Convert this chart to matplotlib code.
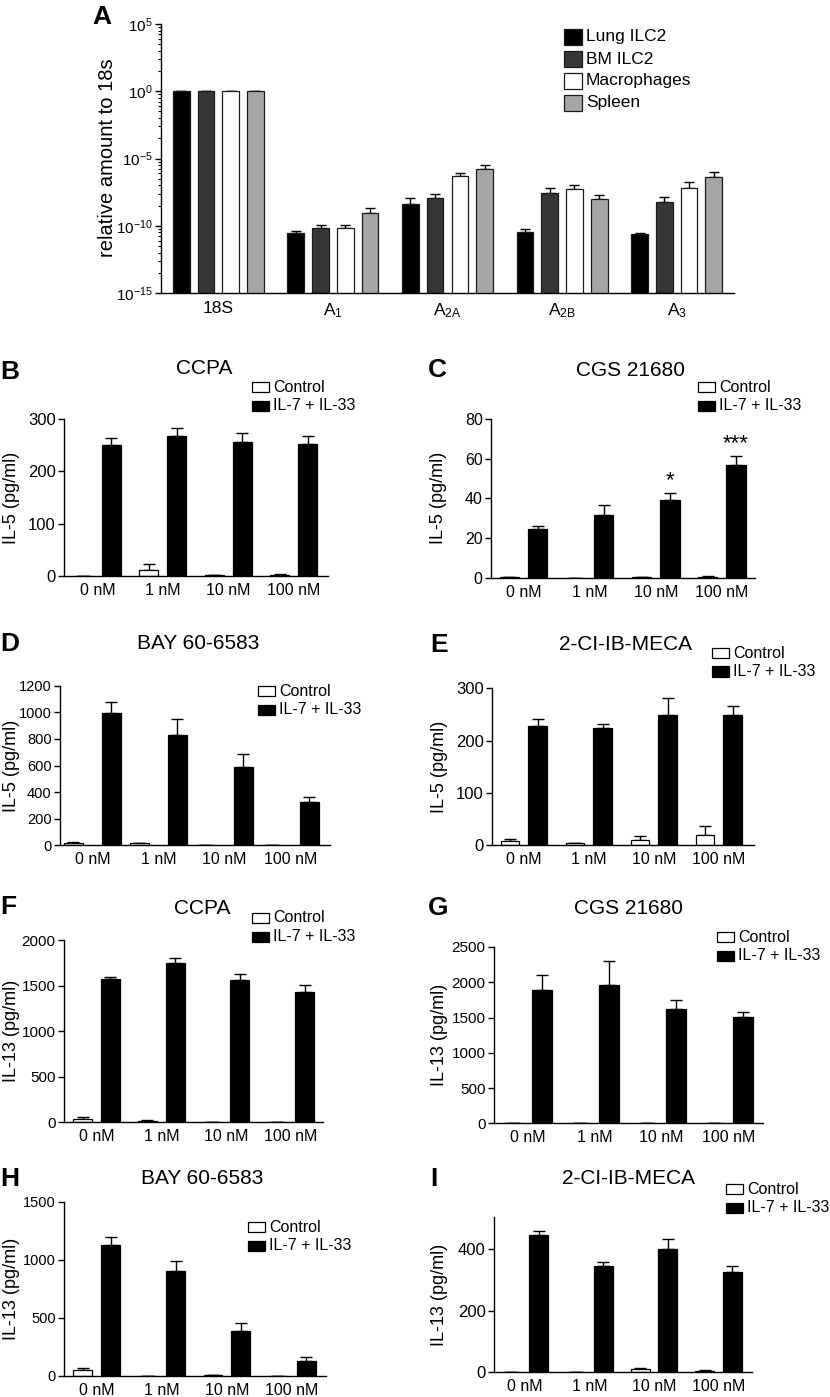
import numpy as np
import matplotlib
matplotlib.use('Agg')
import matplotlib.pyplot as plt
from matplotlib.patches import Rectangle
from matplotlib.ticker import FixedLocator, FixedFormatter

plt.rcParams['font.family'] = ['Liberation Sans', 'DejaVu Sans']
plt.rcParams['mathtext.fontset'] = 'custom'
plt.rcParams['mathtext.rm'] = 'Liberation Sans'
plt.rcParams['axes.linewidth'] = 1.0

# ---- Panel A: receptor expression relative to 18S ----
genes = [r'18S', r'A$\mathregular{_1}$', r'A$\mathregular{_{2A}}$',
         r'A$\mathregular{_{2B}}$', r'A$\mathregular{_3}$']
cell_types = ['Lung ILC2', 'BM ILC2', 'Macrophages', 'Spleen']
lung = [1.0, 2.75e-11, 4.17e-9, 3.31e-11, 2.34e-11]
lung_err = [0.02, 1.3e-11, 7.3e-9, 2.2e-11, 0.6e-11]
bm = [1.0, 6.46e-11, 1.15e-8, 2.57e-8, 5.9e-9]
bm_err = [0.02, 4.8e-11, 1.25e-8, 3.4e-8, 7.6e-9]
mac = [1.0, 7.1e-11, 4.7e-7, 5.6e-8, 6.3e-8]
mac_err = [0.02, 4.1e-11, 3.6e-7, 5.6e-8, 1.1e-7]
spleen = [1.0, 9.1e-10, 1.62e-6, 1.05e-8, 4.2e-7]
spleen_err = [0.02, 1.2e-9, 1.4e-6, 9e-9, 5.6e-7]

# ---- Panels B-I: cytokine release ----
conc_labels = ['0 nM', '1 nM', '10 nM', '100 nM']
series_names = ['Control', 'IL-7 + IL-33']

b_ctrl = [0, 12, 2, 3]
b_ctrl_err = [0, 11, 1, 1]
b_il = [249, 267.6, 255, 251.7]
b_il_err = [13.5, 15, 18, 14.6]

c_ctrl = [0.2, 0, 0.4, 0.5]
c_ctrl_err = [0.1, 0, 0.2, 0.2]
c_il = [24.5, 31.8, 39, 57]
c_il_err = [1.7, 5, 3.5, 4.5]
c_stars = ['', '', '*', '***']

d_ctrl = [20, 15, 0, 3]
d_ctrl_err = [5, 3, 0, 1]
d_il = [992, 832, 591, 326]
d_il_err = [83, 117, 93, 35]

e_ctrl = [8.3, 3.2, 9.6, 18.5]
e_ctrl_err = [3.8, 1.3, 7.6, 18.5]
e_il = [228.5, 223.4, 249.5, 249.5]
e_il_err = [12, 8.3, 31, 17]

f_ctrl = [29, 15, 0, 0]
f_ctrl_err = [22, 7, 0, 0]
f_il = [1570, 1754, 1560, 1431]
f_il_err = [22, 55, 73, 73]

g_ctrl = [5, 8, 5, 0]
g_ctrl_err = [2, 2, 2, 0]
g_il = [1890, 1961, 1621, 1503]
g_il_err = [208, 341, 128, 71]

h_ctrl = [46, 0, 2, 0]
h_ctrl_err = [17, 0, 1, 0]
h_il = [1129, 899, 382, 129]
h_il_err = [69, 90, 75, 29]

i_ctrl = [0, 0, 9.7, 5.4]
i_ctrl_err = [0, 0, 5.4, 2]
i_il = [444, 346, 400, 325]
i_il_err = [16, 13, 33.5, 20]

W, H = 830, 1397
fig = plt.figure(figsize=(W / 100, H / 100), dpi=100)


def add_ax(left, top, right, bottom):
    return fig.add_axes([left / W, 1 - bottom / H, (right - left) / W, (bottom - top) / H])


def ftext(x, y, s, **kw):
    fig.text(x / W, 1 - y / H, s, **kw)


def legend_px(x, y, labels, colors, dy, bw, bh, fs, edge='black'):
    for k, (lab, col) in enumerate(zip(labels, colors)):
        yc = y + k * dy
        fig.patches.append(Rectangle((x / W, 1 - (yc + bh / 2) / H), bw / W, bh / H,
                                     transform=fig.transFigure, facecolor=col,
                                     edgecolor=edge, linewidth=0.9))
        ftext(x + bw + 4, yc, lab, fontsize=fs, ha='left', va='center')


def style_axes(ax):
    ax.spines['top'].set_visible(False)
    ax.spines['right'].set_visible(False)
    ax.set_facecolor('none')


# ---------------- Panel A ----------------
axA = add_ax(161, 24, 734, 293)
style_axes(axA)
axA.set_yscale('log')
x = np.arange(len(genes))
bw = 0.146
step = 0.216
a_colors = ['#000000', '#363636', '#ffffff', '#a6a6a6']
for k, (vals, errs) in enumerate([(lung, lung_err), (bm, bm_err), (mac, mac_err), (spleen, spleen_err)]):
    pos = x + (k - 1.5) * step
    axA.bar(pos, vals, width=bw, color=a_colors[k], edgecolor='#1a1a1a', linewidth=0.9, zorder=2)
    axA.errorbar(pos, vals, yerr=[np.zeros(len(vals)), errs], fmt='none', ecolor='black',
                 elinewidth=1.0, capsize=3.5, capthick=1.0, zorder=1)
axA.set_ylim(1e-15, 1e5)
axA.set_xlim(-0.5, 4.5)
majors = [1e-15, 1e-10, 1e-5, 1e0, 1e5]
axA.yaxis.set_major_locator(FixedLocator(majors))
axA.yaxis.set_major_formatter(FixedFormatter([r'$\mathregular{10^{-15}}$', r'$\mathregular{10^{-10}}$',
                                              r'$\mathregular{10^{-5}}$', r'$\mathregular{10^{0}}$',
                                              r'$\mathregular{10^{5}}$']))
minors = [10 ** (e + 5 * np.log10(m)) for e in (-15, -10, -5, 0) for m in range(2, 10)]
axA.yaxis.set_minor_locator(FixedLocator(minors))
axA.yaxis.set_minor_formatter(FixedFormatter([''] * len(minors)))
axA.tick_params(axis='y', which='major', length=4, width=1.0, labelsize=11, pad=2)
axA.tick_params(axis='y', which='minor', length=2.5, width=0.8)
axA.set_xticks(x)
axA.set_xticklabels(genes, fontsize=12.5)
axA.tick_params(axis='x', length=0, pad=6)
ftext(107, 158, 'relative amount to 18s', fontsize=14.5, rotation=90, ha='center', va='center')
ftext(92, 17, 'A', fontsize=19, fontweight='bold', ha='left', va='center')
legend_px(564, 37, cell_types, a_colors, 22, 18, 16, 12.5, edge='#1a1a1a')

# ---------------- Panels B-I ----------------
panels = [
    dict(rect=(64, 418.7, 328, 576.3), ctrl=b_ctrl, ctrl_err=b_ctrl_err, il=b_il, il_err=b_il_err,
         ylim=300, yticks=[0, 100, 200, 300], ylabel='IL-5 (pg/ml)', title='CCPA', title_xy=(204, 369),
         letter='B', letter_xy=(0, 372), ylab_x=11, leg=(252, 387), off=0.214, xlim=(-0.51, 3.52), tfs=12),
    dict(rect=(491, 419, 755, 577.7), ctrl=c_ctrl, ctrl_err=c_ctrl_err, il=c_il, il_err=c_il_err,
         ylim=80, yticks=[0, 20, 40, 60, 80], ylabel='IL-5 (pg/ml)', title='CGS 21680', title_xy=(630, 370),
         letter='C', letter_xy=(428, 370), ylab_x=438, leg=(698, 387), off=0.214, xlim=(-0.49, 3.5),
         stars=c_stars, tfs=11.5),
    dict(rect=(60, 685.7, 330, 845.3), ctrl=d_ctrl, ctrl_err=d_ctrl_err, il=d_il, il_err=d_il_err,
         ylim=1200, yticks=[0, 200, 400, 600, 800, 1000, 1200], ylabel='IL-5 (pg/ml)', title='BAY 60-6583',
         title_xy=(198, 644), letter='D', letter_xy=(0, 644), ylab_x=11, leg=(258, 691), off=0.286,
         xlim=(-0.49, 3.6), tfs=10.5),
    dict(rect=(492, 688.3, 754, 845), ctrl=e_ctrl, ctrl_err=e_ctrl_err, il=e_il, il_err=e_il_err,
         ylim=300, yticks=[0, 100, 200, 300], ylabel='IL-5 (pg/ml)', title='2-CI-IB-MECA', title_xy=(625, 645),
         letter='E', letter_xy=(430, 645), ylab_x=439, leg=(712, 653), off=0.214, xlim=(-0.49, 3.54), tfs=12),
    dict(rect=(64, 940.3, 323, 1122), ctrl=f_ctrl, ctrl_err=f_ctrl_err, il=f_il, il_err=f_il_err,
         ylim=2000, yticks=[0, 500, 1000, 1500, 2000], ylabel='IL-13 (pg/ml)', title='CCPA', title_xy=(202, 908),
         letter='F', letter_xy=(0, 907), ylab_x=11, leg=(252, 918), off=0.214, xlim=(-0.505, 3.5), tfs=11),
    dict(rect=(494, 947, 763, 1123.3), ctrl=g_ctrl, ctrl_err=g_ctrl_err, il=g_il, il_err=g_il_err,
         ylim=2500, yticks=[0, 500, 1000, 1500, 2000, 2500], ylabel='IL-13 (pg/ml)', title='CGS 21680',
         title_xy=(628, 908), letter='G', letter_xy=(428, 908), ylab_x=439, leg=(717, 937), off=0.214,
         xlim=(-0.5, 3.51), tfs=11),
    dict(rect=(64, 1201.7, 326, 1375.7), ctrl=h_ctrl, ctrl_err=h_ctrl_err, il=h_il, il_err=h_il_err,
         ylim=1500, yticks=[0, 500, 1000, 1500], ylabel='IL-13 (pg/ml)', title='BAY 60-6583',
         title_xy=(202, 1179), letter='H', letter_xy=(0, 1179), ylab_x=11, leg=(248, 1227), off=0.214,
         xlim=(-0.5, 3.52), tfs=10.5),
    dict(rect=(494, 1216.7, 752, 1372.3), ctrl=i_ctrl, ctrl_err=i_ctrl_err, il=i_il, il_err=i_il_err,
         ylim=505, yticks=[0, 200, 400], ylabel='IL-13 (pg/ml)', title='2-CI-IB-MECA', title_xy=(628, 1179),
         letter='I', letter_xy=(430, 1179), ylab_x=439, leg=(726, 1189), off=0.214, xlim=(-0.48, 3.52), tfs=12),
]

xg = np.arange(len(conc_labels))
barw = 0.29
for p in panels:
    ax = add_ax(*p['rect'])
    style_axes(ax)
    off = p['off']
    for vals, errs, col, sign in [(p['ctrl'], p['ctrl_err'], 'white', -1), (p['il'], p['il_err'], 'black', 1)]:
        pos = xg + sign * off
        ax.bar(pos, vals, width=barw, color=col, edgecolor='black', linewidth=0.9, zorder=2)
        ax.errorbar(pos, vals, yerr=[np.zeros(len(vals)), errs], fmt='none', ecolor='black',
                    elinewidth=1.0, capsize=4, capthick=1.0, zorder=1)
    if 'stars' in p:
        for k, s in enumerate(p['stars']):
            if s:
                ax.text(xg[k] + off, p['il'][k] + p['il_err'][k] + 1.0, s, ha='center', va='bottom',
                        fontsize=16)
    ax.set_ylim(0, p['ylim'])
    ax.set_xlim(*p['xlim'])
    ax.set_yticks(p['yticks'])
    ax.set_xticks(xg)
    ax.set_xticklabels(conc_labels)
    ax.tick_params(axis='y', length=4, width=1.0, labelsize=p['tfs'], pad=2)
    ax.tick_params(axis='x', length=0, labelsize=11.5, pad=5)
    top, bottom = p['rect'][1], p['rect'][3]
    ftext(p['ylab_x'], (top + bottom) / 2, p['ylabel'], fontsize=13, rotation=90, ha='center', va='center')
    ftext(p['title_xy'][0], p['title_xy'][1], p['title'], fontsize=15, ha='center', va='center')
    ftext(p['letter_xy'][0], p['letter_xy'][1], p['letter'], fontsize=19, fontweight='bold',
          ha='left', va='center')
    legend_px(p['leg'][0], p['leg'][1], series_names, ['white', 'black'], 18.5, 17, 10, 11.5)

fig.savefig('out.png', dpi=100)
